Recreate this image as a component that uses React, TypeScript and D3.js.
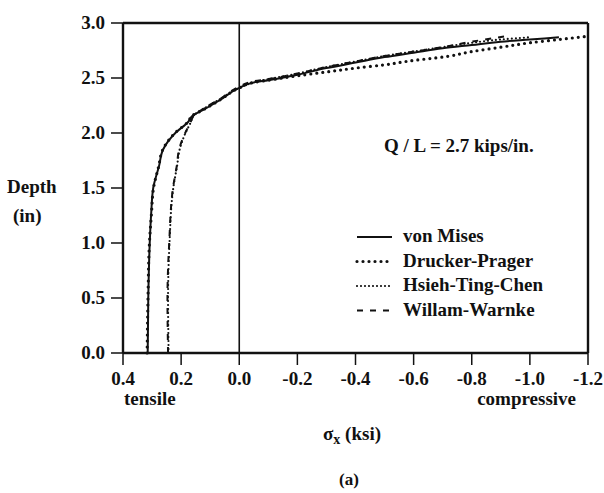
import React from "react";
import * as d3 from "d3";

const xTicks = [0.4, 0.2, 0.0, -0.2, -0.4, -0.6, -0.8, -1.0, -1.2];
const yTicks = [0.0, 0.5, 1.0, 1.5, 2.0, 2.5, 3.0];

const vmStress = [0.315, 0.313, 0.308, 0.303, 0.296, 0.276, 0.262, 0.22, 0.176, 0.159, 0.124, 0.066, 0, -0.05, -0.1, -0.2, -0.3, -0.4, -0.5, -0.6, -0.7, -0.8, -0.9, -1.0, -1.1];
const vmDepth = [0, 0.5, 1.0, 1.27, 1.5, 1.7, 1.85, 2.0, 2.1, 2.16, 2.21, 2.3, 2.41, 2.46, 2.48, 2.53, 2.59, 2.64, 2.69, 2.73, 2.77, 2.8, 2.83, 2.85, 2.87];

const dpStress = [0.317, 0.314, 0.309, 0.302, 0.295, 0.277, 0.263, 0.221, 0.177, 0.16, 0.125, 0.067, 0, -0.05, -0.1, -0.2, -0.3, -0.4, -0.5, -0.6, -0.7, -0.8, -0.9, -1.0, -1.1, -1.2];
const dpDepth = [0, 0.5, 1.0, 1.27, 1.5, 1.7, 1.85, 2.0, 2.1, 2.16, 2.21, 2.3, 2.41, 2.46, 2.48, 2.52, 2.555, 2.59, 2.62, 2.66, 2.69, 2.74, 2.78, 2.82, 2.85, 2.88];

const htcStress = [0.243, 0.245, 0.24, 0.227, 0.214, 0.205, 0.185, 0.168, 0.156, 0.123, 0.064, 0, -0.05, -0.1, -0.2, -0.3, -0.4, -0.5, -0.6, -0.7, -0.8, -0.9, -1.0];
const htcDepth = [0, 0.5, 1.0, 1.5, 1.7, 1.85, 2.0, 2.09, 2.16, 2.22, 2.31, 2.41, 2.46, 2.49, 2.54, 2.6, 2.65, 2.7, 2.74, 2.78, 2.82, 2.85, 2.87];

const wwStress = [0.245, 0.247, 0.241, 0.228, 0.215, 0.207, 0.186, 0.169, 0.155, 0.124, 0.066, 0, -0.05, -0.1, -0.2, -0.3, -0.4, -0.5, -0.6, -0.7, -0.8, -0.92];
const wwDepth = [0, 0.5, 1.0, 1.5, 1.7, 1.85, 2.0, 2.09, 2.16, 2.22, 2.31, 2.42, 2.47, 2.49, 2.54, 2.6, 2.65, 2.7, 2.74, 2.78, 2.83, 2.88];

const seriesNames = ["von Mises", "Drucker-Prager", "Hsieh-Ting-Chen", "Willam-Warnke"];

const W = 604;
const H = 493;
const FONT = "'Liberation Serif', 'Times New Roman', serif";
const INK = "#111";

export default function App() {
  const x = d3.scaleLinear().domain([0.4, -1.2]).range([123, 588]);
  const y = d3.scaleLinear().domain([0, 3]).range([353, 23]);

  const line = d3
    .line<[number, number]>()
    .x((d) => x(d[0]))
    .y((d) => y(d[1]))
    .curve(d3.curveMonotoneY);

  const zip = (a: number[], b: number[]) => a.map((v, i) => [v, b[i]] as [number, number]);

  const styles = [
    { dash: undefined, width: 2, cap: "butt" },
    { dash: "0 6", width: 3.2, cap: "round" },
    { dash: "0 4", width: 2.2, cap: "round" },
    { dash: "6 7", width: 2, cap: "butt" },
  ];
  const data = [
    zip(vmStress, vmDepth),
    zip(dpStress, dpDepth),
    zip(htcStress, htcDepth),
    zip(wwStress, wwDepth),
  ];

  const legendX = 357;
  const legendY0 = 242;
  const legendDy = 24.5;

  return (
    <svg
      width={W}
      height={H}
      style={{ position: "absolute", left: 0, top: 0, background: "#fff" }}
      fontFamily={FONT}
      fontWeight="bold"
      fill={INK}
    >
      <rect x={0} y={0} width={W} height={H} fill="#fff" />
      {/* curves */}
      {data.map((d, i) => (
        <path
          key={i}
          d={line(d) || ""}
          fill="none"
          stroke={INK}
          strokeWidth={styles[i].width}
          strokeDasharray={styles[i].dash}
          strokeLinecap={styles[i].cap as any}
        />
      ))}
      {/* zero line */}
      <line x1={x(0)} x2={x(0)} y1={y(0)} y2={y(3)} stroke={INK} strokeWidth={1.6} />
      {/* frame */}
      <line x1={x(0.4)} x2={x(-1.2)} y1={y(3)} y2={y(3)} stroke={INK} strokeWidth={2.6} />
      <line x1={x(0.4)} x2={x(-1.2)} y1={y(0)} y2={y(0)} stroke={INK} strokeWidth={2.6} />
      <line x1={x(0.4)} x2={x(0.4)} y1={y(0)} y2={y(3)} stroke={INK} strokeWidth={2.4} />
      <line x1={x(-1.2)} x2={x(-1.2)} y1={y(0)} y2={y(3)} stroke={INK} strokeWidth={2.4} />
      {/* y ticks */}
      {yTicks.map((t) => (
        <g key={"y" + t}>
          <line x1={x(0.4) - 12} x2={x(0.4)} y1={y(t)} y2={y(t)} stroke={INK} strokeWidth={1.5} />
          <text x={105} y={y(t) + 6} textAnchor="end" fontSize={19}>
            {t.toFixed(1)}
          </text>
        </g>
      ))}
      {/* x ticks */}
      {xTicks.map((t) => (
        <g key={"x" + t}>
          <line x1={x(t)} x2={x(t)} y1={y(0)} y2={y(0) + 12} stroke={INK} strokeWidth={1.5} />
          <text x={x(t)} y={385} textAnchor="middle" fontSize={19}>
            {t === 0 ? "0.0" : t.toFixed(1)}
          </text>
        </g>
      ))}
      <text x={124} y={405} fontSize={19}>tensile</text>
      <text x={576} y={405} fontSize={19} textAnchor="end">compressive</text>
      <text x={323} y={440} fontSize={19}>
        σ<tspan dy={4} fontSize={14}>x</tspan>
        <tspan dy={-4}> (ksi)</tspan>
      </text>
      <text x={349} y={485} fontSize={17} textAnchor="middle">(a)</text>
      <text x={7} y={193} fontSize={19}>Depth</text>
      <text x={13} y={222} fontSize={19}>(in)</text>
      <text x={384} y={152} fontSize={19}>Q / L = 2.7 kips/in.</text>
      {/* legend */}
      {seriesNames.map((name, i) => (
        <g key={name}>
          <line
            x1={legendX}
            x2={legendX + 35}
            y1={legendY0 + i * legendDy - 5}
            y2={legendY0 + i * legendDy - 5}
            stroke={INK}
            strokeWidth={styles[i].width}
            strokeDasharray={styles[i].dash}
            strokeLinecap={styles[i].cap as any}
          />
          <text x={403} y={legendY0 + i * legendDy} fontSize={19}>
            {name}
          </text>
        </g>
      ))}
    </svg>
  );
}
